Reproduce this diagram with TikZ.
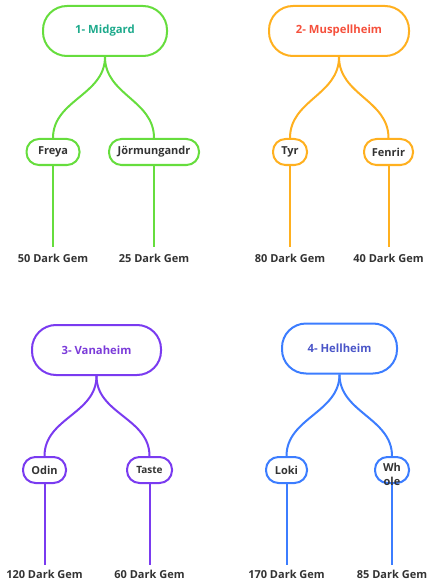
\documentclass[tikz,border=0pt]{standalone}
\usepackage{fontspec}
\setmainfont{Open Sans}
\usepackage{tikz}
\usetikzlibrary{backgrounds}

\definecolor{MidLine}{HTML}{66DD3D}
\definecolor{MidText}{HTML}{1EAA8C}
\definecolor{MusLine}{HTML}{FFB01F}
\definecolor{MusText}{HTML}{F5503C}
\definecolor{VanLine}{HTML}{7A3BF0}
\definecolor{VanText}{HTML}{7B3BD9}
\definecolor{HelLine}{HTML}{3C7DFF}
\definecolor{HelText}{HTML}{4A55C8}
\definecolor{GemText}{HTML}{333333}

\begin{document}
\begin{tikzpicture}[x=1pt,y=-1pt,
    realm/.style={draw,line width=2pt,rounded corners=24pt,inner sep=0pt,
        minimum height=50pt,font=\fontsize{11.3}{13}\selectfont\bfseries},
    twig/.style={draw,line width=2pt,rounded corners=12.5pt,inner sep=0pt,
        minimum height=26pt,text=GemText,font=\fontsize{11}{13}\selectfont\bfseries},
    gem/.style={anchor=base,inner sep=0pt,text=GemText,
        font=\fontsize{11}{13}\selectfont\bfseries},
    branch/.style={line width=2pt}]
\useasboundingbox (0,0) rectangle (427,580);

% 1- Midgard
\begin{scope}[draw=MidLine]
    \node[realm,text=MidText,minimum width=124pt] (midgard) at (105,31) {1- Midgard};
    \node[twig,minimum width=53pt] (freya) at (53,152) {Freya};
    \node[twig,minimum width=90pt] (jorm) at (154,152) {Jörmungandr};
    \coordinate (freyaend) at (53,247);
    \coordinate (jormend) at (154,247);
    \node[gem] (gemfreya) at (53,262) {50 Dark Gem};
    \node[gem] (gemjorm) at (154,262) {25 Dark Gem};
    \begin{scope}[on background layer]
    \draw[branch,MidLine] (midgard.south) .. controls +(0,38) and +(0,-38) .. (freya.north);
    \draw[branch,MidLine] (midgard.south) .. controls +(0,38) and +(0,-38) .. (jorm.north);
    \draw[branch,MidLine] (freya.south) -- (freyaend);
    \draw[branch,MidLine] (jorm.south) -- (jormend);
    \end{scope}
\end{scope}

% 2- Muspellheim
\begin{scope}[draw=MusLine]
    \node[realm,text=MusText,minimum width=140pt] (muspel) at (339,31) {2- Muspellheim};
    \node[twig,minimum width=34pt] (tyr) at (290,152) {Tyr};
    \node[twig,minimum width=49pt] (fenrir) at (388.5,152) {Fenrir};
    \coordinate (tyrend) at (290,247);
    \coordinate (fenrirend) at (388.5,247);
    \node[gem] (gemtyr) at (290,262) {80 Dark Gem};
    \node[gem] (gemfenrir) at (388.5,262) {40 Dark Gem};
    \begin{scope}[on background layer]
    \draw[branch,MusLine] (muspel.south) .. controls +(0,38) and +(0,-38) .. (tyr.north);
    \draw[branch,MusLine] (muspel.south) .. controls +(0,38) and +(0,-38) .. (fenrir.north);
    \draw[branch,MusLine] (tyr.south) -- (tyrend);
    \draw[branch,MusLine] (fenrir.south) -- (fenrirend);
    \end{scope}
\end{scope}

% 3- Vanaheim
\begin{scope}[draw=VanLine]
    \node[realm,text=VanText,minimum width=129pt] (vanaheim) at (96.5,350) {3- Vanaheim};
    \node[twig,minimum width=43pt] (odin) at (44.5,470) {Odin};
    \node[twig,minimum width=45pt,font=\fontsize{10}{12}\selectfont\bfseries,
        text height=9pt,text depth=3pt] (taste) at (149.5,470) {Taste};
    \coordinate (odinend) at (44.5,565);
    \coordinate (tasteend) at (149.5,565);
    \node[gem] (gemodin) at (44.5,578) {120 Dark Gem};
    \node[gem] (gemtaste) at (149.5,578) {60 Dark Gem};
    \begin{scope}[on background layer]
    \draw[branch,VanLine] (vanaheim.south) .. controls +(0,38) and +(0,-38) .. (odin.north);
    \draw[branch,VanLine] (vanaheim.south) .. controls +(0,38) and +(0,-38) .. (taste.north);
    \draw[branch,VanLine] (odin.south) -- (odinend);
    \draw[branch,VanLine] (taste.south) -- (tasteend);
    \end{scope}
\end{scope}

% 4- Hellheim
\begin{scope}[draw=HelLine]
    \node[realm,text=HelText,minimum width=115pt] (hellheim) at (339.5,348.5) {4- Hellheim};
    \node[twig,minimum width=41pt] (loki) at (286.5,470) {Loki};
    \node[twig,minimum width=34pt,text height=8pt,text depth=6pt,
        font=\fontsize{11}{14}\selectfont\bfseries] (whole) at (392,470)
        {\vtop{\halign{\hfil#\hfil\cr Wh\cr ole\cr}}};
    \coordinate (lokiend) at (286.5,565);
    \coordinate (wholeend) at (392,565);
    \node[gem] (gemloki) at (286.5,578) {170 Dark Gem};
    \node[gem] (gemwhole) at (392,578) {85 Dark Gem};
    \begin{scope}[on background layer]
    \draw[branch,HelLine] (hellheim.south) .. controls +(0,38) and +(0,-38) .. (loki.north);
    \draw[branch,HelLine] (hellheim.south) .. controls +(0,38) and +(0,-38) .. (whole.north);
    \draw[branch,HelLine] (loki.south) -- (lokiend);
    \draw[branch,HelLine] (whole.south) -- (wholeend);
    \end{scope}
\end{scope}
\end{tikzpicture}
\end{document}
